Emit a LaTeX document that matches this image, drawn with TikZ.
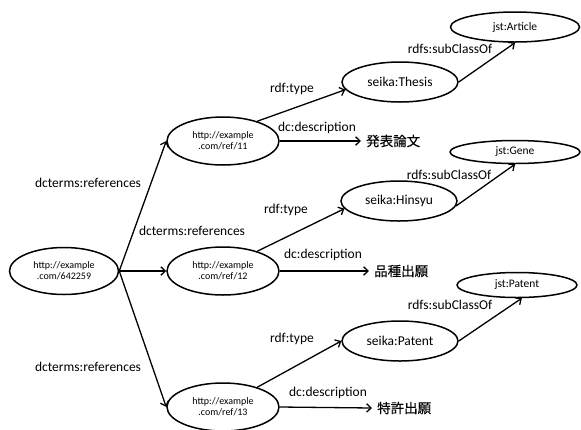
\documentclass[tikz,border=0pt]{standalone}
\usepackage{fontspec}
\setmainfont{Carlito}
\newfontfamily\jp[FakeBold=0.2]{Noto Sans CJK JP}
\usetikzlibrary{shapes.geometric,arrows.meta}
\begin{document}
\begin{tikzpicture}[x=1pt,y=-1pt,
  oval/.style={ellipse,draw,line width=1.5pt,inner sep=0pt,align=center},
  res/.style={oval,minimum width=112pt,minimum height=48pt,font=\fontsize{10}{11}\selectfont},
  cls/.style={oval,minimum width=116pt,minimum height=40pt,font=\fontsize{13.5}{15}\selectfont},
  sup/.style={oval,font=\fontsize{11.5}{13}\selectfont},
  lbl/.style={inner sep=0pt,font=\fontsize{13.5}{15}\selectfont},
  lit/.style={anchor=west,inner sep=0pt,inner xsep=5pt,font=\jp\fontsize{13.5}{15}\selectfont},
  arr/.style={line width=1.3pt,-{Straight Barb[length=4.5pt,width=8.5pt,line width=1.3pt]}}]
\useasboundingbox (0,0) rectangle (581,429);

% subject and referenced works
\node[res,minimum width=109pt,minimum height=47pt] (root) at (64,271) {http://example\\.com/642259};
\node[res] (r11) at (223,141) {http://example\\.com/ref/11};
\node[res] (r12) at (223,271) {http://example\\.com/ref/12};
\node[res] (r13) at (223,407) {http://example\\.com/ref/13};

% types
\node[cls] (s1) at (400,82) {seika:Thesis};
\node[cls] (s2) at (399,201) {seika:Hinsyu};
\node[cls] (s3) at (400,341) {seika:Patent};

% super classes
\node[sup,minimum width=129pt,minimum height=30pt] (j1) at (515,27) {jst:Article};
\node[sup,minimum width=130pt,minimum height=23pt] (j2) at (515,152) {jst:Gene};
\node[sup,minimum width=120pt,minimum height=25pt] (j3) at (517,285) {jst:Patent};

% literal descriptions
\node[lit] (d1) at (361,141) {発表論文};
\node[lit] (d2) at (369,271) {品種出願};
\node[lit] (d3) at (372,408) {特許出願};

% references
\draw[arr] (root.east) -- (r11.west);
\draw[arr] (root.east) -- (r12.west);
\draw[arr] (root.east) -- (r13.west);
\node[lbl] (ref1) at (88,183) {dcterms:references};
\node[lbl] (ref2) at (192,231) {dcterms:references};
\node[lbl] (ref3) at (88,367) {dcterms:references};

% rdf:type
\draw[arr] (r11.30) -- (s1.188);
\draw[arr] (r12.30) -- (s2.188);
\draw[arr] (r13.30) -- (s3.west);
\node[lbl] (t1) at (292,89) {rdf:type};
\node[lbl] (t2) at (286,210) {rdf:type};
\node[lbl] (t3) at (292,339) {rdf:type};

% dc:description
\draw[arr] (r11.east) -- (d1.west);
\draw[arr] (r12.east) -- (d2.west);
\draw[arr] (r13.east) -- (d3.west);
\node[lbl] (c1) at (317,128) {dc:description};
\node[lbl] (c2) at (323,255) {dc:description};
\node[lbl] (c3) at (328,393) {dc:description};

% rdfs:subClassOf
\draw[arr] (s1.east) -- (j1.south);
\draw[arr] (s2.-5) -- (j2.south);
\draw[arr] (s3.east) -- (j3.290);
\node[lbl] (k1) at (450,49) {rdfs:subClassOf};
\node[lbl] (k2) at (449,175) {rdfs:subClassOf};
\node[lbl] (k3) at (450,305) {rdfs:subClassOf};
\end{tikzpicture}
\end{document}
